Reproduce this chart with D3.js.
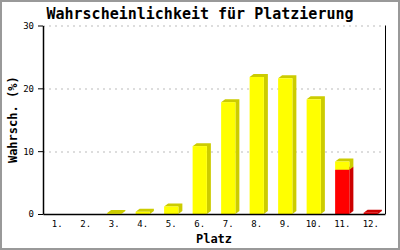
<!DOCTYPE html>
<html>
<head>
<meta charset="utf-8">
<script src="https://cdn.jsdelivr.net/npm/d3@7"></script>
<style>
  html, body { margin: 0; padding: 0; background: #fff; }
</style>
</head>
<body>
<div id="chart"></div>
<script>
// data
const places = ['1.', '2.', '3.', '4.', '5.', '6.', '7.', '8.', '9.', '10.', '11.', '12.'];
const yellowValues = [0, 0, 0.15, 0.35, 1.2, 10.8, 17.8, 21.8, 21.6, 18.25, 1.3, 0];
const redValues = [0, 0, 0, 0, 0, 0, 0, 0, 0, 0, 7.05, 0.2];
const yTicks = [0, 10, 20, 30];

const W = 400, H = 250;
const margin = { top: 25.5, right: 15, bottom: 36, left: 43 };
const width = W - margin.left - margin.right,
  height = H - margin.top - margin.bottom;
const depthX = 4, depthY = 3; // shadow offset

const svg = d3
  .select('#chart')
  .append('svg')
  .attr('width', W)
  .attr('height', H)
  .style('font-family', '"DejaVu Sans Mono", monospace');

// outer frame
svg
  .append('rect')
  .attr('x', 1)
  .attr('y', 1)
  .attr('width', W - 2)
  .attr('height', H - 2)
  .attr('fill', '#fff')
  .attr('stroke', '#999')
  .attr('stroke-width', 2);

// title
svg
  .append('text')
  .attr('x', 200)
  .attr('y', 19)
  .attr('text-anchor', 'middle')
  .style('font-size', '15px')
  .style('font-weight', 'bold')
  .text('Wahrscheinlichkeit für Platzierung');

const g = svg.append('g').attr('transform', `translate(${margin.left}, ${margin.top})`);

//scale x
const x = d3
  .scaleBand()
  .domain(places)
  .range([0, width])
  .paddingInner(0.5)
  .paddingOuter(0.25);

//scale y
const y = d3.scaleLinear().domain([0, 30]).range([height, 0]);

// grid lines
g.selectAll('.grid')
  .data(yTicks.filter((d) => d > 0))
  .enter()
  .append('line')
  .attr('x1', 0)
  .attr('x2', width)
  .attr('y1', (d) => Math.round(y(d)) + 0.5)
  .attr('y2', (d) => Math.round(y(d)) + 0.5)
  .attr('stroke', '#bbb')
  .attr('stroke-width', 1)
  .attr('stroke-dasharray', '2 4');

// right border line
g.append('line')
  .attr('x1', width + 0.5)
  .attr('x2', width + 0.5)
  .attr('y1', y(30))
  .attr('y2', y(0))
  .attr('stroke', '#000');

// one bar segment with its shadow
function drawSegment(i, v0, v1, front, side) {
  if (v1 - v0 <= 0) return;
  const x0 = x(places[i]), x1 = x0 + x.bandwidth();
  const yt = y(v1), yb = y(v0);
  g.append('polygon')
    .attr('points', [
      [x0, yt], [x0 + depthX, yt - depthY], [x1 + depthX, yt - depthY],
      [x1 + depthX, yb - depthY], [x1, yb], [x1, yt]
    ].map((p) => p.join(',')).join(' '))
    .attr('fill', side);
  g.append('rect')
    .attr('x', x0)
    .attr('y', yt)
    .attr('width', x.bandwidth())
    .attr('height', yb - yt)
    .attr('fill', front);
}

places.forEach((p, i) => {
  drawSegment(i, 0, redValues[i], '#ff0000', '#cc0000');
  drawSegment(i, redValues[i], redValues[i] + yellowValues[i], '#ffff00', '#cccc00');
});

//add X-axis
const xAxis = g
  .append('g')
  .attr('transform', `translate(0, ${height})`)
  .call(d3.axisBottom(x).tickSize(0).tickPadding(7));
xAxis.select('.domain').attr('stroke', '#000').attr('stroke-width', 1.5);
xAxis
  .selectAll('text')
  .attr('fill', '#000')
  .style('font-size', '9px')
  .style('font-family', '"DejaVu Sans Mono", monospace');

//add Y-axis
const yAxis = g
  .append('g')
  .call(d3.axisLeft(y).tickValues(yTicks).tickSize(5).tickSizeOuter(0).tickPadding(4));
yAxis.select('.domain').attr('stroke', '#000').attr('stroke-width', 1.5);
yAxis
  .selectAll('text')
  .attr('fill', '#000')
  .style('font-size', '9px')
  .style('font-family', '"DejaVu Sans Mono", monospace');

//axis titles
svg
  .append('text')
  .attr('x', margin.left + width / 2)
  .attr('y', 243)
  .attr('text-anchor', 'middle')
  .style('font-size', '12px')
  .style('font-weight', 'bold')
  .text('Platz');

svg
  .append('text')
  .attr('transform', 'rotate(-90)')
  .attr('x', -(margin.top + height / 2))
  .attr('y', 17)
  .attr('text-anchor', 'middle')
  .style('font-size', '12px')
  .style('font-weight', 'bold')
  .text('Wahrsch. (%)');
</script>
</body>
</html>
